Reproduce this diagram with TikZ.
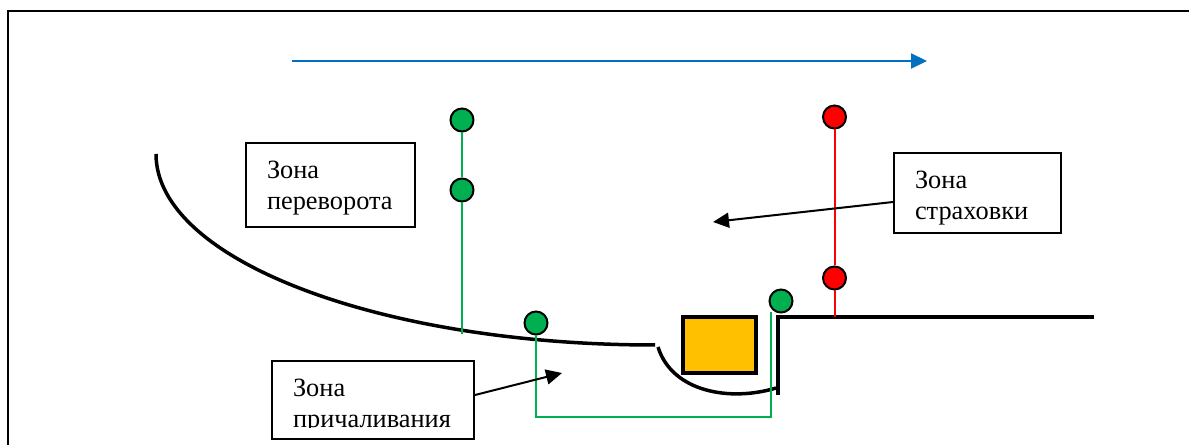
\documentclass[tikz,border=0pt]{standalone}
\usepackage{fontspec}
\setmainfont{Liberation Serif}
\usetikzlibrary{arrows.meta}
\definecolor{signalgreen}{HTML}{00B050}
\definecolor{flowblue}{HTML}{0070C0}
\definecolor{boatorange}{HTML}{FFC000}
\newcommand{\zonelabel}[2]{\rule{0pt}{#1}Зона\\#2}

\begin{document}
\begin{tikzpicture}[x=0.02cm,y=-0.02cm]
    \tikzstyle{zone}=[draw=black,line width=0.04cm,fill=white,align=left,inner sep=0pt,font=\fontsize{15}{17.6}\selectfont]
    \tikzstyle{signal}=[draw=black,circle,line width=0.04cm,inner sep=0pt,minimum size=0.46cm]
    \tikzstyle{shore}=[line width=0.07cm]
    \tikzstyle{rope}=[line width=0.04cm]
    \tikzstyle{pointer}=[line width=0.04cm,-{Triangle[length=0.32cm,width=0.3cm]}]
    \useasboundingbox (0,0) rectangle (1189,445);

    % frame
    \draw[line width=0.04cm] (8,445) -- (8,11) -- (1189,11);

    % flow direction
    \coordinate (flowA) at (292,61);
    \coordinate (flowB) at (927,61);
    \draw[pointer,flowblue] (flowA) -- (flowB);

    % shore
    \draw[shore] (156,154) .. controls (156,260) and (380,345) .. (655,345);
    \draw[shore] (658,347) .. controls (672,392) and (730,402) .. (776,388);
    \draw[shore] (1094,317) -- (778,317) -- (778,395);

    % boat
    \node[draw=black,line width=0.08cm,fill=boatorange,inner sep=0pt,minimum width=1.46cm,minimum height=1.12cm] at (719.5,345) (boat) {};

    % signals
    \node[signal,fill=signalgreen] at (462,120) (g1) {};
    \node[signal,fill=signalgreen] at (462,190) (g2) {};
    \node[signal,fill=signalgreen] at (536,323) (g3) {};
    \node[signal,fill=signalgreen] at (781,301) (g4) {};
    \node[signal,fill=red] at (834.5,117) (r1) {};
    \node[signal,fill=red] at (834.5,278) (r2) {};
    \coordinate (g2end) at (462,334);
    \coordinate (gcorner) at (770.5,417);
    \coordinate (gend) at (770.5,312);
    \coordinate (r2end) at (834.5,317);

    \draw[rope,signalgreen] (g1) -- (g2);
    \draw[rope,signalgreen] (g2) -- (g2end);
    \draw[rope,signalgreen] (g3) -- (g3 |- gcorner) -- (gcorner) -- (gend);
    \draw[rope,red] (r1) -- (r2);
    \draw[rope,red] (r2) -- (r2end);

    % zones
    \node[zone,minimum width=3.38cm,minimum height=1.68cm,text width=2.54cm] at (330.5,185) (zturn) {\zonelabel{13.5pt}{переворота}};
    \node[zone,minimum width=3.34cm,minimum height=1.6cm,text width=2.5cm] at (977.5,193) (zsafe) {\zonelabel{16pt}{страховки}};
    \node[zone,minimum width=4.04cm,minimum height=1.56cm,text width=3.2cm] at (373,400) (zdock) {\zonelabel{16.5pt}{причаливания}};
    \fill[white] (280,428) rectangle (466,437);

    \coordinate (safetip) at (713,222);
    \coordinate (docktip) at (562,373);
    \draw[pointer] ([yshift=-0.18cm]zsafe.west) -- (safetip);
    \draw[pointer] ([yshift=0.1cm]zdock.east) -- (docktip);
\end{tikzpicture}
\end{document}
